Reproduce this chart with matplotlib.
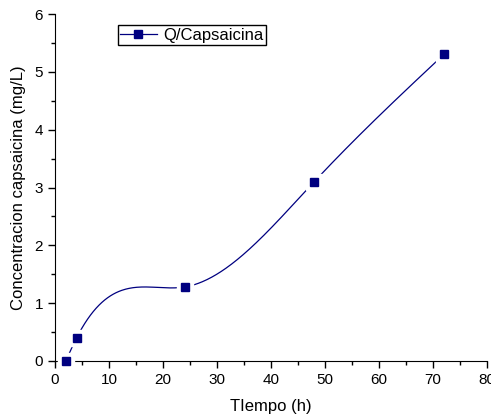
import numpy as np
import matplotlib.pyplot as plt
from matplotlib.ticker import MultipleLocator

plt.rcParams['font.family'] = ['Liberation Sans', 'DejaVu Sans']

tiempo = [2, 4, 24, 48, 72]
capsaicina = [0.0, 0.4, 1.28, 3.1, 5.3]


def natural_spline(x, y, xs):
    x = np.asarray(x, float)
    y = np.asarray(y, float)
    n = len(x)
    h = np.diff(x)
    A = np.zeros((n, n))
    b = np.zeros(n)
    A[0, 0] = 1
    A[-1, -1] = 1
    for i in range(1, n - 1):
        A[i, i - 1] = h[i - 1]
        A[i, i] = 2 * (h[i - 1] + h[i])
        A[i, i + 1] = h[i]
        b[i] = 3 * ((y[i + 1] - y[i]) / h[i] - (y[i] - y[i - 1]) / h[i - 1])
    c = np.linalg.solve(A, b)
    out = np.empty_like(xs)
    for k, xv in enumerate(xs):
        i = min(np.searchsorted(x, xv, side='right') - 1, n - 2)
        i = max(i, 0)
        dx = xv - x[i]
        bi = (y[i + 1] - y[i]) / h[i] - h[i] * (2 * c[i] + c[i + 1]) / 3
        di = (c[i + 1] - c[i]) / (3 * h[i])
        out[k] = y[i] + bi * dx + c[i] * dx ** 2 + di * dx ** 3
    return out


fig = plt.figure(figsize=(4.91, 4.16), dpi=100)
ax = fig.add_axes([55 / 491, 1 - 361 / 416, 432 / 491, 347 / 416])

xs = np.linspace(tiempo[0], tiempo[-1], 400)
ys = natural_spline(tiempo, capsaicina, xs)
ax.plot(xs, ys, color='#000080', lw=0.9, zorder=2)
ax.plot(tiempo, capsaicina, 's', color='white', ms=11, zorder=3, clip_on=False)
ax.plot(tiempo, capsaicina, 's', color='#000080', ms=5.8, zorder=4, clip_on=False)

ax.plot([], [], '-s', color='#000080', lw=0.9, ms=5.5, label='Q/Capsaicina')
ax.legend(loc='upper left', bbox_to_anchor=(0.145, 0.968), frameon=True, fancybox=False,
          edgecolor='black', framealpha=1, fontsize=12, handlelength=2.2,
          handletextpad=0.4, borderpad=0.15, borderaxespad=0)

ax.set_xlim(0, 80)
ax.set_ylim(0, 6)
ax.xaxis.set_major_locator(MultipleLocator(10))
ax.xaxis.set_minor_locator(MultipleLocator(5))
ax.yaxis.set_major_locator(MultipleLocator(1))
ax.yaxis.set_minor_locator(MultipleLocator(0.5))
ax.tick_params(which='major', direction='out', length=5, width=1, labelsize=11)
ax.tick_params(which='minor', direction='out', length=3, width=1)
ax.spines['top'].set_visible(False)
ax.spines['right'].set_visible(False)
ax.set_xlabel('TIempo (h)', fontsize=12, labelpad=9)
ax.set_ylabel('Concentracion capsaicina (mg/L)', fontsize=12, labelpad=6)

fig.savefig('out.png', dpi=100)
